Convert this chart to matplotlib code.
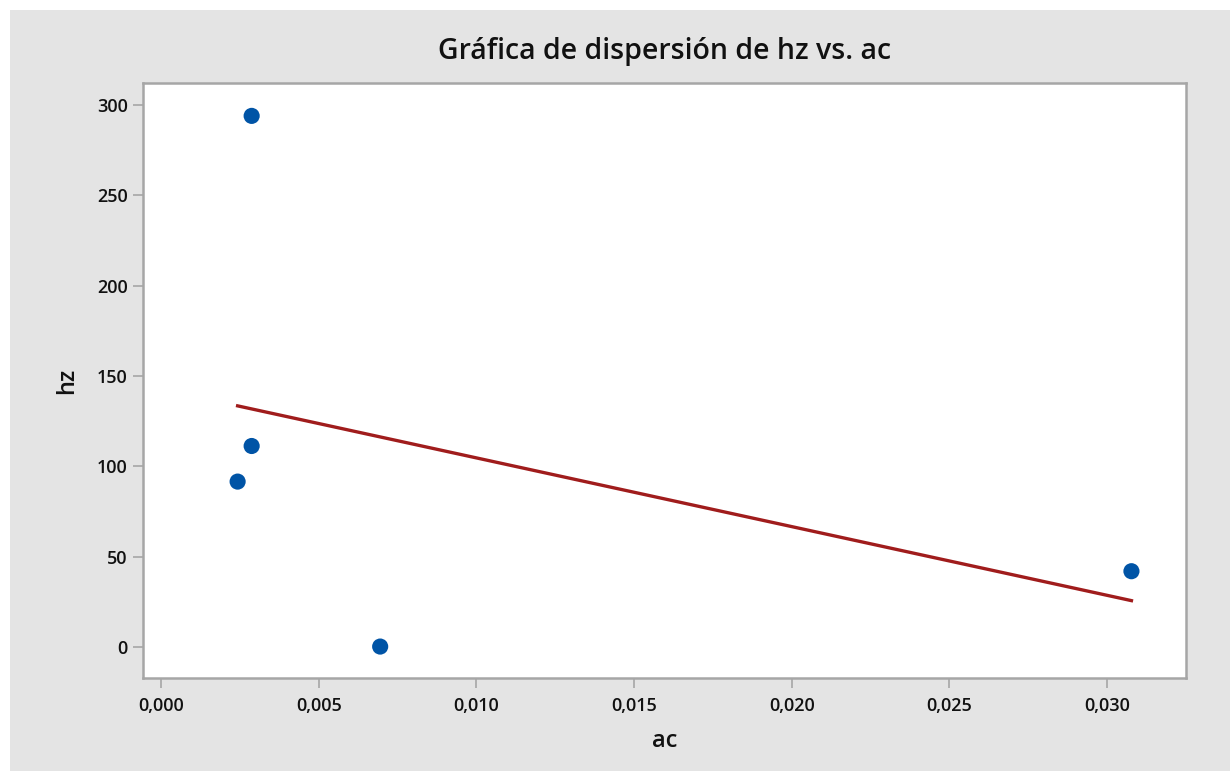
import numpy as np
import matplotlib
matplotlib.use('Agg')
import matplotlib.pyplot as plt
from matplotlib.patches import Rectangle
from matplotlib.ticker import FuncFormatter

# datos
ac = [0.002875, 0.002875, 0.00243, 0.00695, 0.03077]
hz = [293.9, 111.2, 91.5, 0.2, 41.9]
xticks = [0.000, 0.005, 0.010, 0.015, 0.020, 0.025, 0.030]
yticks = [0, 50, 100, 150, 200, 250, 300]

plt.rcParams['font.family'] = ['Open Sans', 'DejaVu Sans']

BG = '#e4e4e4'
SPINE = '#a6a6a6'
BLUE = '#0054a6'
RED = '#a01c1c'
TXT = '#111111'

fig = plt.figure(figsize=(12.3, 7.71), dpi=100, facecolor='white')
fig.patches.append(Rectangle((10/1230, 0), 1 - 10/1230, 1 - 10/771,
                             transform=fig.transFigure, facecolor=BG,
                             edgecolor='none', zorder=-10))

ax = fig.add_axes([143/1230, 1 - 678/771, (1186 - 143)/1230, (678 - 83)/771])
ax.set_facecolor('white')

# recta de regresión
coef = np.polyfit(ac, hz, 1)
xs = np.array([min(ac), max(ac)])
ax.plot(xs, np.polyval(coef, xs), color=RED, lw=2.4, zorder=2)

ax.scatter(ac, hz, s=135, color=BLUE, marker='o', edgecolors='none', zorder=3)

ax.set_xlim(-0.00057, 0.0325)
ax.set_ylim(-17.2, 312.1)
ax.set_xticks(xticks)
ax.set_yticks(yticks)
ax.xaxis.set_major_formatter(FuncFormatter(lambda v, p: f'{v:.3f}'.replace('.', ',')))

for s in ax.spines.values():
    s.set_color(SPINE)
    s.set_linewidth(1.8)

ax.tick_params(axis='both', colors=SPINE, length=7, width=1.2, pad=4,
               labelcolor=TXT, labelsize=13)
ax.tick_params(axis='x', pad=7)
for lab in ax.get_xticklabels() + ax.get_yticklabels():
    lab.set_fontweight('semibold')

ax.set_xlabel('ac', fontsize=17, color=TXT, labelpad=10, fontweight='semibold')
ax.set_ylabel('hz', fontsize=17, color=TXT, labelpad=13, fontweight='semibold')
ax.set_title('Gráfica de dispersión de hz vs. ac', fontsize=20.5,
             color=TXT, pad=17, fontweight='semibold')

plt.savefig('out.png', dpi=100, facecolor='white')
plt.close()
